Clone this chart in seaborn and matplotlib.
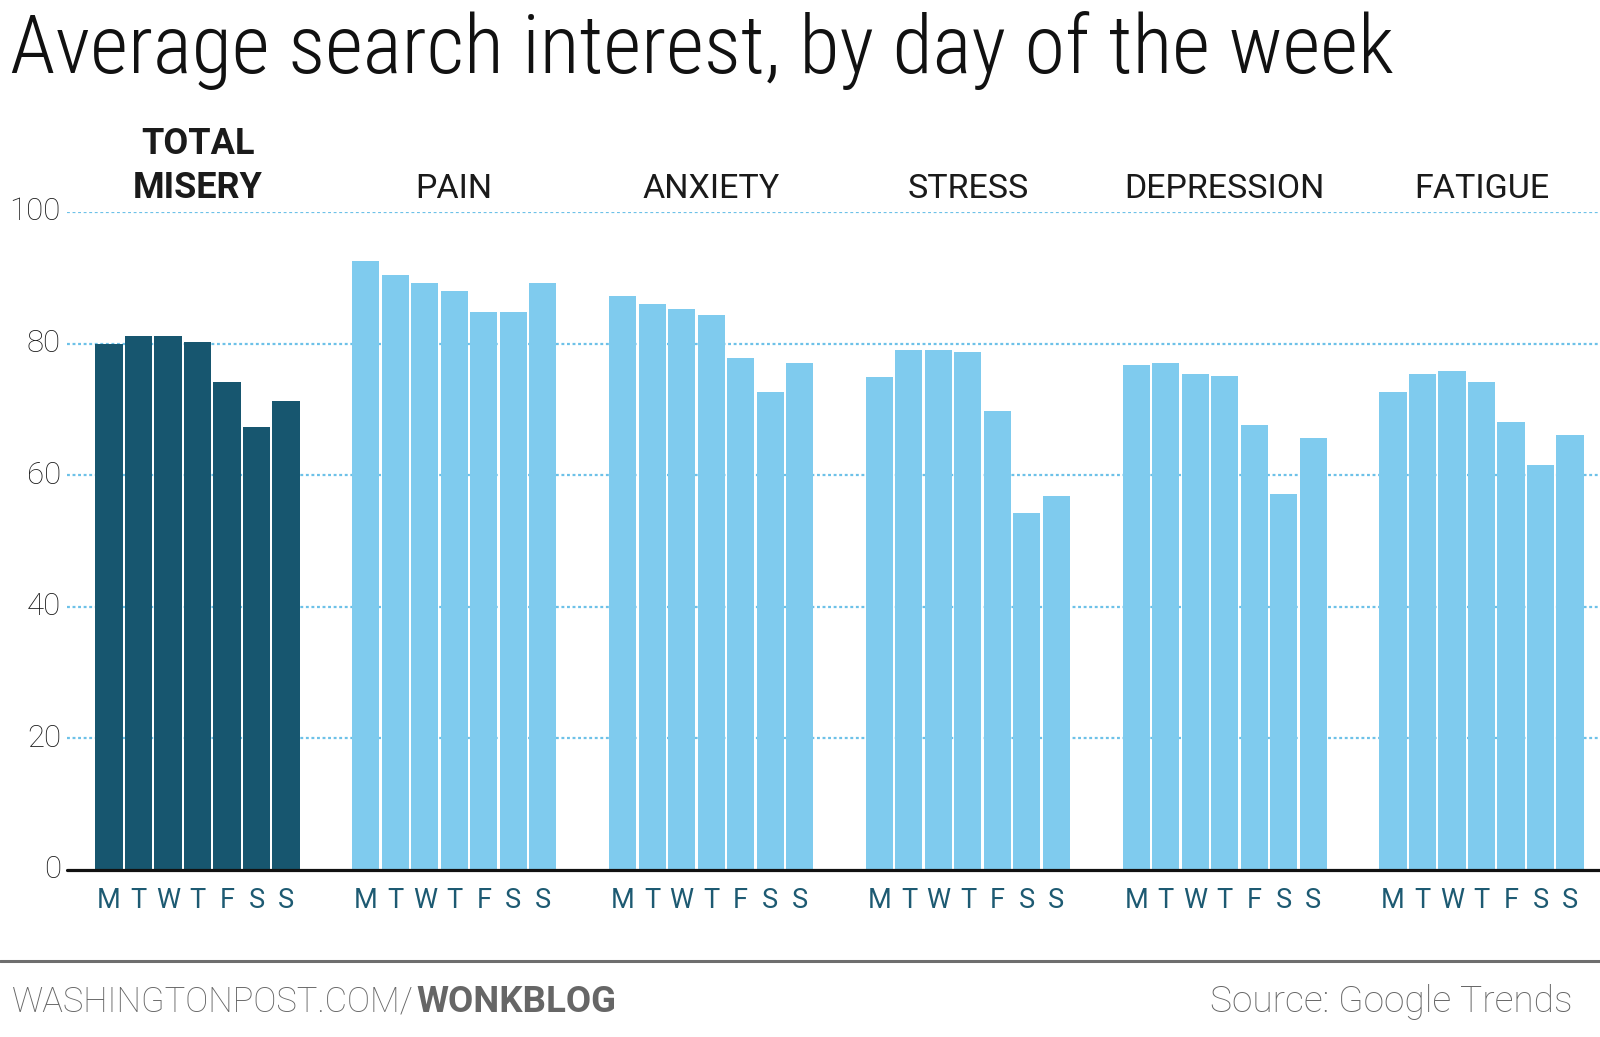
import matplotlib
matplotlib.use("Agg")
import matplotlib.pyplot as plt
import seaborn as sns
import pandas as pd

# ---------------- data ----------------
days = ["M", "T", "W", "T", "F", "S", "S"]
groups = ["TOTAL\nMISERY", "PAIN", "ANXIETY", "STRESS", "DEPRESSION", "FATIGUE"]
total_misery = [79.9, 81.1, 81.1, 80.3, 74.2, 67.3, 71.3]
pain = [92.5, 90.5, 89.2, 88.0, 84.8, 84.8, 89.2]
anxiety = [87.2, 86.0, 85.2, 84.4, 77.8, 72.6, 77.0]
stress = [75.0, 79.1, 79.1, 78.7, 69.7, 54.3, 56.8]
depression = [76.7, 77.0, 75.4, 75.1, 67.7, 57.2, 65.7]
fatigue = [72.6, 75.4, 75.8, 74.2, 68.1, 61.6, 66.1]
yticks = [0, 20, 40, 60, 80, 100]
title = "Average search interest, by day of the week"
footer_left = "WASHINGTONPOST.COM/"
footer_bold = "WONKBLOG"
footer_right = "Source: Google Trends"

series = [total_misery, pain, anxiety, stress, depression, fatigue]

# ---------------- style ----------------
sns.set_style("white")
plt.rcParams["font.family"] = ["Roboto", "DejaVu Sans"]
NARROW = ["Roboto Condensed", "Liberation Sans Narrow", "Roboto", "DejaVu Sans"]

DARK = "#17566F"
LIGHT = "#7FCBEE"
GRID = "#6DC1E8"
DAYCOL = "#1D5A72"

W, H = 1600, 1037
fig = plt.figure(figsize=(W / 100, H / 100), dpi=100)

# axes placement in pixels
ax_left, ax_right = 67, 1600
y0_px, y100_px = 870, 212
ax = fig.add_axes([ax_left / W, 1 - y0_px / H, (ax_right - ax_left) / W, (y0_px - y100_px) / H])

slot_px = 29.5
PERIOD = 256.8 / slot_px  # group spacing in bar slots
first_center_px = 109.0

rows = []
for g, (name, vals) in enumerate(zip(groups, series)):
    for d, v in enumerate(vals):
        rows.append({"pos": g * PERIOD + d, "value": v,
                     "kind": "total" if g == 0 else "part",
                     "group": name, "day": days[d]})
df = pd.DataFrame(rows)

sns.barplot(data=df, x="pos", y="value", hue="kind",
            palette={"total": DARK, "part": LIGHT}, saturation=1,
            native_scale=True, width=0.92, dodge=False, legend=False,
            errorbar=None, linewidth=0, ax=ax, zorder=3)

ax.set_xlim((ax_left - first_center_px) / slot_px, (ax_right - first_center_px) / slot_px)
ax.set_ylim(0, 100)
ax.set_axis_off()

px_per_unit = (y0_px - y100_px) / 100.0

# grid lines
for t in yticks[1:]:
    ax.axhline(t, color=GRID, lw=1.6, ls=(0, (1.3, 1.2)), zorder=1)
ax.axhline(0, color="#111111", lw=2.3, zorder=4, clip_on=False)

# y tick labels
for t in yticks:
    ax.text((61 - first_center_px) / slot_px, t - 8.5 / px_per_unit, str(t),
            ha="right", va="baseline", fontsize=22.5, fontweight="light",
            color="#1a1a1a", clip_on=False)

# day labels
for _, r in df.iterrows():
    ax.text(r["pos"], -(908 - y0_px) / px_per_unit, r["day"], ha="center",
            va="baseline", fontsize=19.5, color=DAYCOL, clip_on=False)

# group titles
for g, name in enumerate(groups):
    cx = g * PERIOD + 3
    if g == 0:
        l1, l2 = name.split("\n")
        ax.text(cx, (y0_px - 154) / px_per_unit, l1, ha="center", va="baseline",
                fontsize=26, fontweight="bold", color="#1a1a1a", clip_on=False)
        ax.text(cx, (y0_px - 198) / px_per_unit, l2, ha="center", va="baseline",
                fontsize=26, fontweight="bold", color="#1a1a1a", clip_on=False)
    else:
        ax.text(cx, (y0_px - 198) / px_per_unit, name, ha="center", va="baseline",
                fontsize=24.5, color="#1a1a1a", clip_on=False)

# ---------------- titles / footer ----------------
renderer = fig.canvas.get_renderer()


def fx(x):
    return x / W


def fy(y):
    return 1 - y / H


def fit(t, width_px):
    bb = t.get_window_extent(renderer)
    t.set_fontsize(t.get_fontsize() * width_px / bb.width)


tt = fig.text(fx(10), fy(73), title, ha="left", va="baseline", fontsize=54,
              fontweight="light", color="#111111", family=NARROW)
fit(tt, 1383)

# footer rule
fig.add_artist(plt.Line2D([0, 1], [fy(960.5), fy(960.5)], color="#6e6e6e", lw=2.2,
                          transform=fig.transFigure))

fl = fig.text(fx(12), fy(1012), footer_left, ha="left", va="baseline", fontsize=22,
              fontweight="light", color="#666666")
fit(fl, 402)
bb = fl.get_window_extent(renderer)
fb = fig.text(bb.x1 / W + 3 / W, fy(1012), footer_bold, ha="left", va="baseline",
              fontsize=fl.get_fontsize(), fontweight="bold", color="#666666")
fit(fb, 200)
fr = fig.text(fx(1572), fy(1012), footer_right, ha="right", va="baseline", fontsize=22,
              fontweight="light", color="#666666")
fit(fr, 362)

fig.savefig("out.png", dpi=100, facecolor="white")
